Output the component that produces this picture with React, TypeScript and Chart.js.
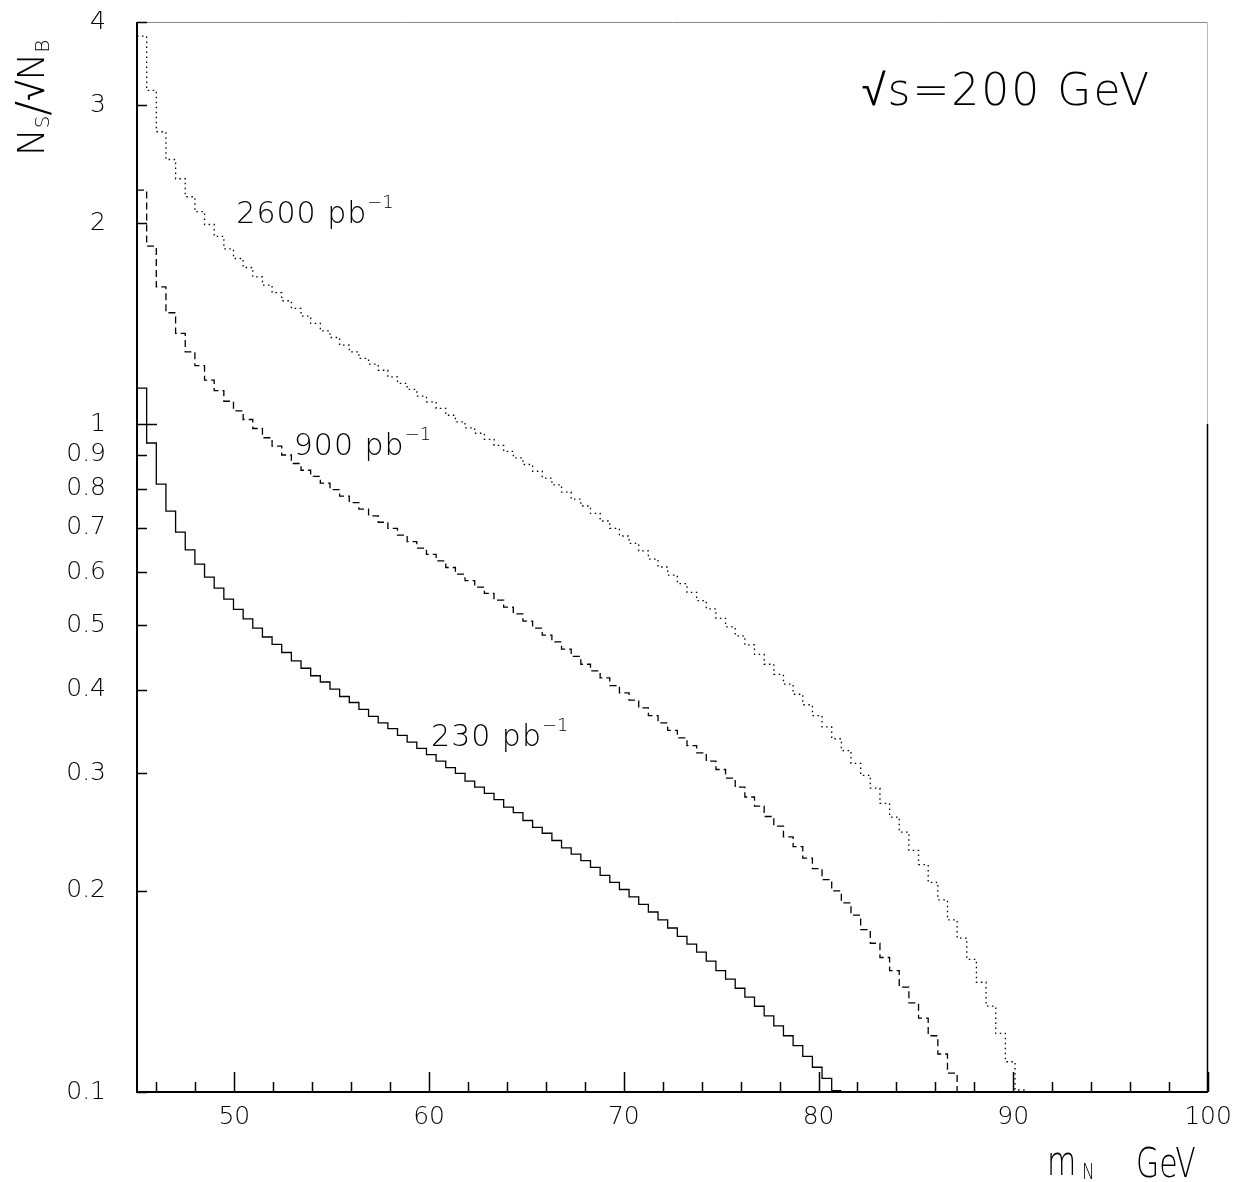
import React, { useEffect, useRef } from 'react';
import { Chart, registerables } from 'chart.js';

Chart.register(...registerables);

// Histogram binning (x axis, GeV)
const X_MIN = 45;
const X_MAX = 100;
const N_BINS = 111;

// N_S / sqrt(N_B) per bin
const SOLID_230 = [
  1.132, 0.937, 0.813, 0.741, 0.689, 0.648, 0.617, 0.590, 0.568, 0.547,
  0.528, 0.511, 0.495, 0.480, 0.468, 0.455, 0.442, 0.431, 0.420, 0.411,
  0.401, 0.391, 0.383, 0.374, 0.365, 0.357, 0.350, 0.342, 0.334, 0.327,
  0.320, 0.313, 0.306, 0.300, 0.292, 0.286, 0.280, 0.274, 0.267, 0.262,
  0.255, 0.249, 0.244, 0.238, 0.232, 0.227, 0.222, 0.217, 0.211, 0.206,
  0.201, 0.196, 0.191, 0.186, 0.181, 0.176, 0.171, 0.1665, 0.162, 0.157,
  0.152, 0.1476, 0.143, 0.1387, 0.1344, 0.130, 0.1256, 0.1214, 0.1173, 0.1131,
  0.1089, 0.1048, 0.1005,
];

const DASHED_900 = [
  2.24, 1.847, 1.605, 1.468, 1.367, 1.283, 1.223, 1.164, 1.122, 1.082,
  1.047, 1.016, 0.985, 0.954, 0.927, 0.899, 0.873, 0.853, 0.835, 0.816,
  0.798, 0.780, 0.763, 0.746, 0.729, 0.713, 0.698, 0.682, 0.667, 0.652,
  0.638, 0.624, 0.610, 0.596, 0.583, 0.570, 0.558, 0.545, 0.532, 0.520,
  0.507, 0.495, 0.483, 0.472, 0.4605, 0.449, 0.437, 0.427, 0.417, 0.406,
  0.396, 0.386, 0.376, 0.366, 0.357, 0.348, 0.339, 0.330, 0.322, 0.313,
  0.304, 0.295, 0.286, 0.2765, 0.268, 0.2585, 0.250, 0.241, 0.233, 0.224,
  0.216, 0.208, 0.200, 0.192, 0.184, 0.175, 0.167, 0.159, 0.152, 0.1436,
  0.136, 0.129, 0.1214, 0.114, 0.1067, 0.099,
];

const DOTTED_2600 = [
  3.81, 3.16, 2.74, 2.49, 2.33, 2.19, 2.08, 1.99, 1.91, 1.83,
  1.77, 1.716, 1.661, 1.615, 1.573, 1.530, 1.490, 1.451, 1.415, 1.379,
  1.348, 1.313, 1.283, 1.254, 1.230, 1.204, 1.177, 1.151, 1.127, 1.101,
  1.080, 1.056, 1.031, 1.008, 0.987, 0.969, 0.949, 0.929, 0.910, 0.890,
  0.870, 0.850, 0.830, 0.811, 0.791, 0.772, 0.754, 0.735, 0.716, 0.698,
  0.680, 0.663, 0.646, 0.628, 0.611, 0.594, 0.577, 0.560, 0.544, 0.529,
  0.512, 0.497, 0.482, 0.467, 0.452, 0.437, 0.422, 0.408, 0.394, 0.380,
  0.366, 0.352, 0.338, 0.3245, 0.3105, 0.298, 0.285, 0.2705, 0.258, 0.245,
  0.230, 0.219, 0.206, 0.194, 0.181, 0.170, 0.158, 0.146, 0.1345, 0.1224,
  0.111, 0.1007,
];

const X_TICKS = [46, 48, 50, 52, 54, 56, 58, 60, 62, 64, 66, 68, 70, 72, 74, 76, 78, 80, 82, 84, 86, 88, 90, 92, 94, 96, 98, 100];
const X_MAJOR = [50, 60, 70, 80, 90, 100];
const Y_TICKS = [0.1, 0.2, 0.3, 0.4, 0.5, 0.6, 0.7, 0.8, 0.9, 1, 2, 3, 4];
const Y_TICK_LABELS = ['0.1', '0.2', '0.3', '0.4', '0.5', '0.6', '0.7', '0.8', '0.9', '1', '2', '3', '4'];

const CURVE_LABELS = [
  { main: '2600 pb', sup: '\u22121', x: 50.1, y: 2.0 },
  { main: '900 pb', sup: '\u22121', x: 53.05, y: 0.9 },
  { main: '230 pb', sup: '\u22121', x: 60.1, y: 0.33 },
];

const FONT = '"DejaVu Sans ExtraLight", "DejaVu Sans", sans-serif';
const FONT_W = 200;

function histPoints(vals: number[]) {
  const w = (X_MAX - X_MIN) / N_BINS;
  const pts = vals.map((v, k) => ({ x: X_MIN + k * w, y: v }));
  pts.push({ x: X_MIN + vals.length * w, y: vals[vals.length - 1] });
  return pts;
}

type Run = { t: string; size: number; dy?: number; ls?: number };

function drawRuns(ctx: CanvasRenderingContext2D, runs: Run[], x: number, y: number, sx = 1) {
  ctx.save();
  ctx.translate(x, y);
  ctx.scale(sx, 1);
  let cx = 0;
  for (const r of runs) {
    ctx.font = `${FONT_W} ${r.size}px ${FONT}`;
    (ctx as any).letterSpacing = `${r.ls ?? 0}px`;
    ctx.fillText(r.t, cx, r.dy ?? 0);
    cx += ctx.measureText(r.t).width;
  }
  (ctx as any).letterSpacing = '0px';
  ctx.restore();
}

const decorPlugin = {
  id: 'decor',
  afterDraw(chart: any) {
    const { ctx, chartArea: a, scales } = chart;
    const xs = scales.x;
    const ys = scales.y;
    ctx.save();
    ctx.strokeStyle = '#000';
    ctx.fillStyle = '#000';

    // frame: top (light), right (dark below 1, light above)
    const yOne = Math.round(ys.getPixelForValue(1));
    ctx.lineWidth = 1;
    ctx.strokeStyle = '#888';
    ctx.beginPath();
    ctx.moveTo(a.left, a.top + 0.5);
    ctx.lineTo(a.right, a.top + 0.5);
    ctx.stroke();
    ctx.strokeStyle = '#bbb';
    ctx.beginPath();
    ctx.moveTo(a.right - 0.5, a.top);
    ctx.lineTo(a.right - 0.5, yOne);
    ctx.stroke();
    ctx.strokeStyle = '#000';
    ctx.lineWidth = 1.5;
    ctx.beginPath();
    ctx.moveTo(a.right - 0.5, yOne);
    ctx.lineTo(a.right - 0.5, a.bottom);
    ctx.stroke();

    ctx.lineWidth = 2;
    ctx.beginPath();
    ctx.moveTo(a.left, a.top);
    ctx.lineTo(a.left, a.bottom);
    ctx.lineTo(a.right, a.bottom);
    ctx.stroke();

    // inward tick marks
    ctx.lineWidth = 1.5;
    ctx.beginPath();
    for (const v of X_TICKS) {
      const px = Math.round(xs.getPixelForValue(v)) + 0.5;
      const len = X_MAJOR.includes(v) ? 20 : 10;
      ctx.moveTo(px, a.bottom);
      ctx.lineTo(px, a.bottom - len);
    }
    for (const v of Y_TICKS) {
      const py = Math.round(ys.getPixelForValue(v)) + 0.5;
      const len = v === 1 ? 20 : 10;
      ctx.moveTo(a.left, py);
      ctx.lineTo(a.left + len, py);
    }
    ctx.stroke();

    // curve labels
    ctx.textBaseline = 'alphabetic';
    ctx.textAlign = 'left';
    for (const l of CURVE_LABELS) {
      const px = xs.getPixelForValue(l.x);
      const py = ys.getPixelForValue(l.y);
      drawRuns(ctx, [
        { t: l.main, size: 30, ls: 1 },
        { t: l.sup, size: 18, dy: -15 },
      ], px, py);
    }

    // energy label
    drawRuns(ctx, [{ t: '\u221As=200 GeV', size: 44, ls: 2 }], xs.getPixelForValue(82.2), ys.getPixelForValue(3.0));

    // x axis title
    drawRuns(ctx, [{ t: 'm', size: 40 }], 1047, 1175, 0.75);
    drawRuns(ctx, [{ t: 'N', size: 21 }], 1082, 1179, 0.8);
    drawRuns(ctx, [{ t: 'GeV', size: 41 }], 1136, 1177, 0.73);

    // y axis title (rotated)
    ctx.save();
    ctx.translate(44, 156);
    ctx.rotate(-Math.PI / 2);
    drawRuns(ctx, [
      { t: 'N', size: 37 },
      { t: 'S', size: 20, dy: 5 },
      { t: '/', size: 44, dy: 4 },
      { t: '\u221A', size: 37 },
      { t: 'N', size: 37 },
      { t: 'B', size: 20, dy: 5 },
    ], 0, 0);
    ctx.restore();

    ctx.restore();
  },
};

export default function App() {
  const ref = useRef<HTMLCanvasElement | null>(null);

  useEffect(() => {
    const canvas = ref.current;
    if (!canvas) return;
    const common = { stepped: 'before' as const, pointRadius: 0, fill: false, borderColor: '#000', tension: 0 };
    const chart = new Chart(canvas, {
      type: 'line',
      data: {
        datasets: [
          { ...common, label: '230 pb-1', data: histPoints(SOLID_230), borderWidth: 1.3 },
          { ...common, label: '900 pb-1', data: histPoints(DASHED_900), borderWidth: 1.3, borderDash: [7, 4] },
          { ...common, label: '2600 pb-1', data: histPoints(DOTTED_2600), borderWidth: 1.3, borderDash: [1.5, 3.5] },
        ],
      },
      options: {
        animation: false,
        responsive: false,
        devicePixelRatio: 1,
        layout: { padding: { top: 22, right: 30, left: 0, bottom: 0 } },
        plugins: { legend: { display: false }, tooltip: { enabled: false } },
        scales: {
          x: {
            type: 'linear',
            min: X_MIN,
            max: X_MAX,
            grid: { display: false, drawTicks: false },
            border: { display: false },
            afterFit: (s: any) => { s.height = 90; s.paddingLeft = 0; s.paddingRight = 0; },
            afterBuildTicks: (s: any) => { s.ticks = X_TICKS.map((v) => ({ value: v })); },
            ticks: {
              autoSkip: false,
              maxRotation: 0,
              padding: 10,
              color: '#000',
              font: { family: FONT, size: 25, weight: FONT_W },
              callback: (v: any) => (X_MAJOR.includes(Number(v)) ? String(v) : ''),
            },
          },
          y: {
            type: 'logarithmic',
            min: 0.1,
            max: 4,
            grid: { display: false, drawTicks: false },
            border: { display: false },
            afterFit: (s: any) => { s.width = 137; s.paddingTop = 0; s.paddingBottom = 0; },
            afterBuildTicks: (s: any) => { s.ticks = Y_TICKS.map((v) => ({ value: v })); },
            ticks: {
              autoSkip: false,
              padding: 31,
              color: '#000',
              font: { family: FONT, size: 25, weight: FONT_W },
              callback: (v: any) => {
                const i = Y_TICKS.indexOf(Number(v));
                return i >= 0 ? Y_TICK_LABELS[i] : '';
              },
            },
          },
        },
      },
      plugins: [decorPlugin],
    } as any);
    return () => chart.destroy();
  }, []);

  return (
    <div style={{ position: 'absolute', left: 0, top: 0, width: 1238, height: 1182, background: '#fff' }}>
      <canvas ref={ref} width={1238} height={1182} style={{ display: 'block', width: 1238, height: 1182 }} />
    </div>
  );
}
